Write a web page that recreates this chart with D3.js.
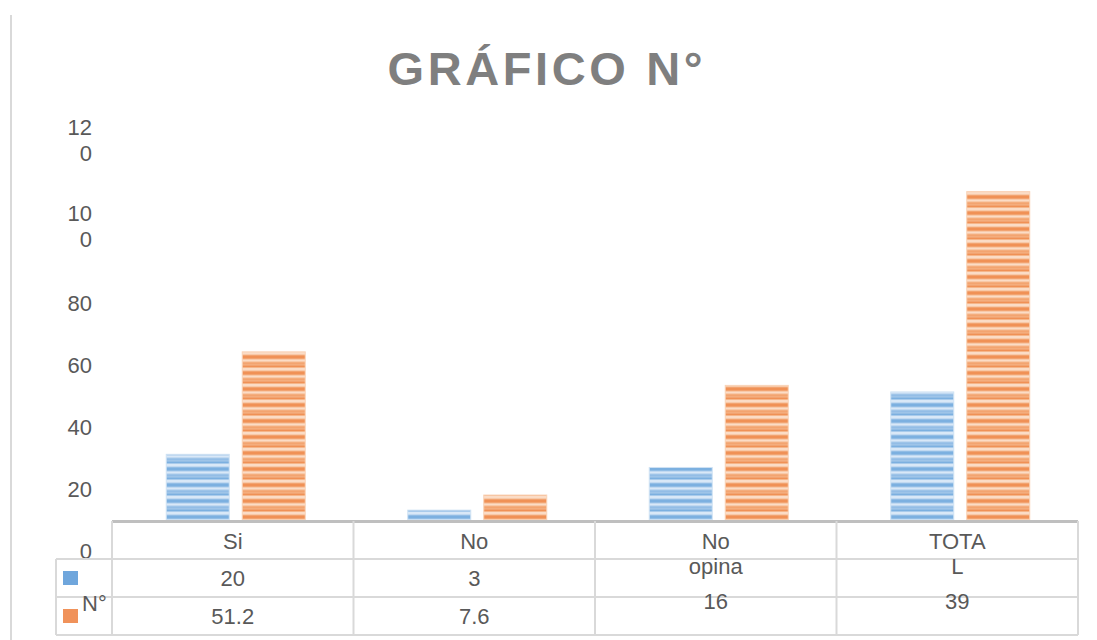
<!DOCTYPE html>
<html>
<head>
<meta charset="utf-8">
<script src="https://cdn.jsdelivr.net/npm/d3@7"></script>
<style>
  body { margin: 0; background: #fff; }
  svg { display: block; font-family: "Liberation Sans", Arial, sans-serif; }
</style>
</head>
<body>
<svg width="1097" height="640"></svg>
<script>
// data
var categories = ["Si", "No", "No opina", "TOTAL"];
var seriesNames = ["N°", "%"];
var countValues = [20, 3, 16, 39];
var percentValues = [51.2, 7.6, 41.0, 100];
var yTicks = [0, 20, 40, 60, 80, 100, 120];

var svg = d3.select("svg");
var textColor = "#595959";
var gridColor = "#d9d9d9";

// soft stripe patterns for the bars
var defs = svg.append("defs");
function stripePattern(id, base, dark, mid, light) {
    var p = defs.append("pattern")
        .attr("id", id)
        .attr("patternUnits", "userSpaceOnUse")
        .attr("width", 10).attr("height", 16);
    p.append("rect").attr("width", 10).attr("height", 16).attr("fill", base);
    p.append("rect").attr("y", 0).attr("width", 10).attr("height", 2.5).attr("fill", light);
    p.append("rect").attr("y", 3.5).attr("width", 10).attr("height", 3).attr("fill", dark);
    p.append("rect").attr("y", 7.5).attr("width", 10).attr("height", 2).attr("fill", light);
    p.append("rect").attr("y", 10.5).attr("width", 10).attr("height", 2).attr("fill", mid);
    p.append("rect").attr("y", 13.5).attr("width", 10).attr("height", 1.5).attr("fill", dark);
}
stripePattern("blueStripe", "#a9cbeb", "#7cb0e0", "#93bde6", "#d9e8f7");
stripePattern("orangeStripe", "#f5b68a", "#f09156", "#f3a470", "#fbdcc6");
var fills = ["url(#blueStripe)", "url(#orangeStripe)"];

// left frame line
svg.append("line")
    .attr("x1", 11).attr("y1", 15).attr("x2", 11).attr("y2", 640)
    .attr("stroke", gridColor).attr("stroke-width", 2);

// title
svg.append("text")
    .attr("x", 545).attr("y", 85)
    .attr("text-anchor", "middle")
    .attr("font-size", 47).attr("font-weight", "bold")
    .attr("fill", "#7f7f7f")
    .attr("textLength", 315).attr("lengthAdjust", "spacing")
    .text("GRÁFICO N°");

// scales
var x = d3.scaleBand().domain(categories).range([112, 1078]);
var xs = d3.scaleBand().domain(seriesNames).range([0, 139]).paddingInner(0.171);
var y = d3.scaleLinear().domain([0, 120]).range([520, 126]);
// tick labels sit where the (wrapped) labels ended up
var yLabel = d3.scaleLinear().domain([0, 80, 100, 120]).range([551, 303, 226, 140]);

// y tick labels (narrow column makes 3-digit labels wrap)
yTicks.forEach(function(v) {
    var s = String(v);
    var lines = s.length > 2 ? [s.slice(0, 2), s.slice(2)] : [s];
    var t = svg.append("text")
        .attr("text-anchor", "end")
        .attr("font-size", 22)
        .attr("fill", textColor);
    lines.forEach(function(l, i) {
        t.append("tspan")
            .attr("x", 92)
            .attr("y", yLabel(v) + (i - (lines.length - 1) / 2) * 26)
            .attr("dy", "0.35em")
            .text(l);
    });
});

// bars
var groupOffset = (x.bandwidth() - 139) / 2 + 3;
var series = [countValues, percentValues];
series.forEach(function(vals, si) {
    svg.append("g").selectAll("rect")
        .data(vals)
        .enter().append("rect")
        .attr("x", function(d, i) { return x(categories[i]) + groupOffset + xs(seriesNames[si]); })
        .attr("y", function(d) { return y(d); })
        .attr("width", xs.bandwidth())
        .attr("height", function(d) { return y(0) - y(d); })
        .attr("fill", fills[si])
        .attr("stroke", si === 0 ? "#cfe2f3" : "#f9d2b6")
        .attr("stroke-width", 1);
});

// data table
var tbl = svg.append("g").attr("stroke", gridColor).attr("stroke-width", 2);
tbl.append("line").attr("x1", 112).attr("x2", 1078).attr("y1", 521.5).attr("y2", 521.5)
    .attr("stroke", "#bfbfbf").attr("stroke-width", 3);
[559, 597, 635].forEach(function(ry) {
    tbl.append("line").attr("x1", 56).attr("x2", 1078).attr("y1", ry).attr("y2", ry);
});
x.domain().concat([null]).forEach(function(c) {
    var cx = c === null ? 1078 : x(c);
    tbl.append("line").attr("x1", cx).attr("x2", cx).attr("y1", 521).attr("y2", 635);
});
tbl.append("line").attr("x1", 56).attr("x2", 56).attr("y1", 559).attr("y2", 635);

// legend cells
svg.append("rect").attr("x", 63).attr("y", 571).attr("width", 15).attr("height", 14).attr("fill", "#6fa6dc");
svg.append("rect").attr("x", 63).attr("y", 609).attr("width", 15).attr("height", 14).attr("fill", "#f0925a");
svg.append("text").attr("x", 82).attr("y", 603).attr("dy", "0.35em")
    .attr("font-size", 22).attr("fill", textColor).text(seriesNames[0]);

// cell texts; wrapped headers push the values down and the last row out
function wrapHeader(s) {
    if (s.indexOf(" ") > 0) return s.split(" ");
    if (s.length > 4) return [s.slice(0, 4), s.slice(4)];
    return [s];
}
categories.forEach(function(c, i) {
    var cx = x(c) + x.bandwidth() / 2;
    var lines = wrapHeader(c);
    var shift = (lines.length - 1) * 23;
    var cells = [];
    lines.forEach(function(l, k) { cells.push({t: l, y: 541 + k * 25}); });
    cells.push({t: String(countValues[i]), y: 578 + shift});
    cells.push({t: String(percentValues[i]), y: 616 + shift});
    cells.forEach(function(cl) {
        if (cl.y + 8 > 635) return;
        svg.append("text")
            .attr("x", cx).attr("y", cl.y).attr("dy", "0.35em")
            .attr("text-anchor", "middle")
            .attr("font-size", 22).attr("fill", textColor)
            .text(cl.t);
    });
});
</script>
</body>
</html>
